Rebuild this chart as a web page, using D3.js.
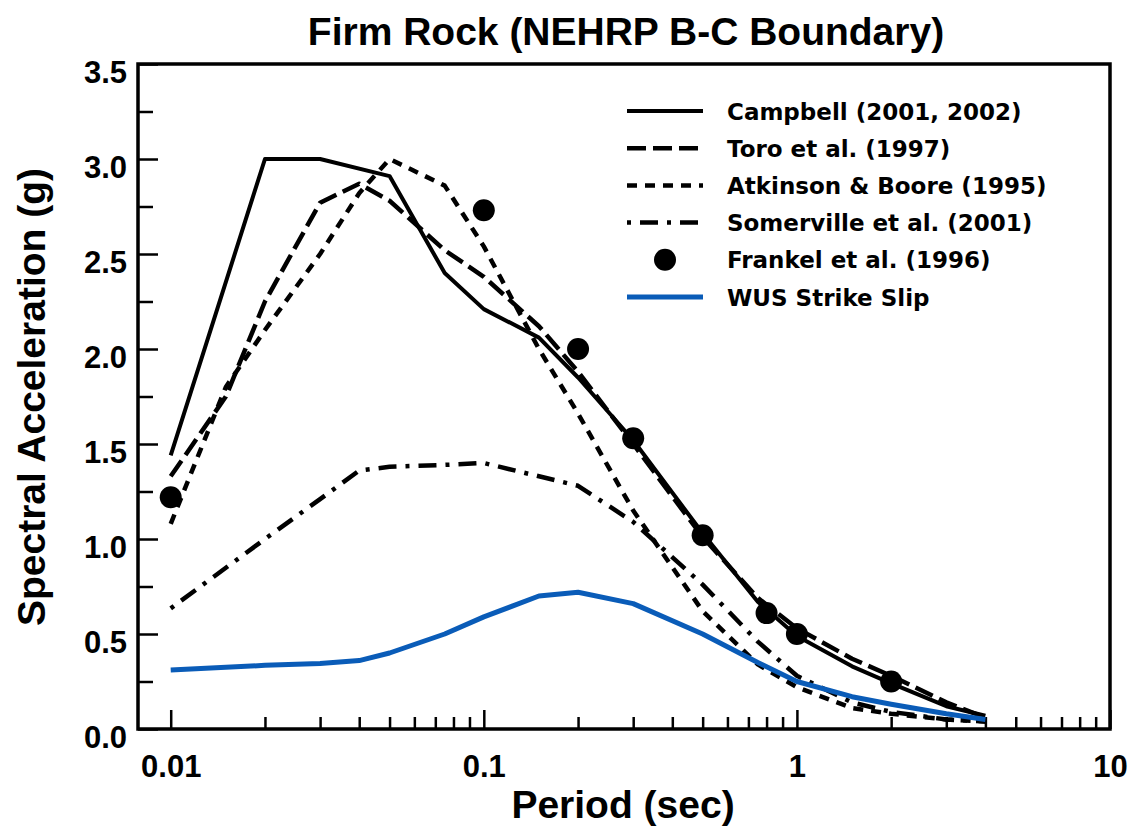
<!DOCTYPE html>
<html>
<head>
<meta charset="utf-8">
<script src="https://cdn.jsdelivr.net/npm/d3@7"></script>
<style>
  html, body { margin: 0; padding: 0; background: #fff; }
  svg { display: block; }
</style>
</head>
<body>
<script>
// Response spectra for firm rock (NEHRP B-C boundary)
const periodsCampbell = [0.01, 0.02, 0.03, 0.05, 0.075, 0.1, 0.15, 0.2, 0.3, 0.5, 0.75, 1, 1.5, 2, 3, 4];
const saCampbell      = [1.44, 3.0, 3.0, 2.91, 2.40, 2.21, 2.06, 1.85, 1.52, 1.03, 0.67, 0.49, 0.33, 0.24, 0.12, 0.07];

const periodsToro = [0.01, 0.015, 0.02, 0.03, 0.04, 0.05, 0.075, 0.1, 0.15, 0.2, 0.3, 0.5, 0.75, 1, 1.5, 2, 3, 4];
const saToro      = [1.33, 1.75, 2.25, 2.77, 2.87, 2.78, 2.52, 2.38, 2.12, 1.88, 1.50, 1.01, 0.69, 0.53, 0.37, 0.28, 0.14, 0.06];

const periodsAtkinson = [0.01, 0.015, 0.02, 0.03, 0.04, 0.05, 0.075, 0.1, 0.15, 0.2, 0.3, 0.5, 0.75, 1, 1.5, 2, 3, 4];
const saAtkinson      = [1.08, 1.80, 2.10, 2.50, 2.82, 3.0, 2.86, 2.54, 2.0, 1.66, 1.15, 0.62, 0.34, 0.22, 0.11, 0.08, 0.05, 0.04];

const periodsSomerville = [0.01, 0.02, 0.03, 0.04, 0.05, 0.075, 0.1, 0.15, 0.2, 0.3, 0.5, 0.75, 1, 1.5, 2, 3, 4];
const saSomerville      = [0.635, 1.0, 1.21, 1.36, 1.38, 1.39, 1.40, 1.33, 1.28, 1.09, 0.76, 0.46, 0.28, 0.14, 0.09, 0.05, 0.04];

const periodsFrankel = [0.01, 0.1, 0.2, 0.3, 0.5, 0.8, 1, 2];
const saFrankel      = [1.22, 2.73, 2.0, 1.53, 1.02, 0.61, 0.50, 0.25];

const periodsWUS = [0.01, 0.02, 0.03, 0.04, 0.05, 0.075, 0.1, 0.15, 0.2, 0.3, 0.5, 0.75, 1, 1.5, 2, 3, 4];
const saWUS      = [0.31, 0.335, 0.345, 0.36, 0.40, 0.50, 0.59, 0.70, 0.72, 0.66, 0.50, 0.35, 0.25, 0.17, 0.13, 0.08, 0.05];

const seriesNames = ["Campbell (2001, 2002)", "Toro et al. (1997)", "Atkinson & Boore (1995)",
                     "Somerville et al. (2001)", "Frankel et al. (1996)", "WUS Strike Slip"];

const xMajorTicks = [0.01, 0.1, 1, 10];
const xTickLabels = ["0.01", "0.1", "1", "10"];
const yMajorTicks = [0, 0.5, 1.0, 1.5, 2.0, 2.5, 3.0, 3.5];
const yTickLabels = ["0.0", "0.5", "1.0", "1.5", "2.0", "2.5", "3.0", "3.5"];

const titleText = "Firm Rock (NEHRP B-C Boundary)";
const xTitle = "Period (sec)";
const yTitle = "Spectral Acceleration (g)";

// ---- layout ----
const W = 1134, H = 835;
const plotLeft = 138, plotRight = 1110, plotTop = 64, plotBottom = 729;
const FONT = "'Liberation Sans', Arial, Helvetica, sans-serif";
const LEGEND_FONT = "'DejaVu Sans', Verdana, sans-serif";

const svg = d3.select("body").append("svg")
  .attr("width", W).attr("height", H)
  .attr("viewBox", `0 0 ${W} ${H}`);
svg.append("rect").attr("width", W).attr("height", H).attr("fill", "#fff");

// log period axis: one decade spans ~313 px, left edge sits a little below 0.01
const x = d3.scaleLog().domain([0.01, 10]).range([170.7, 1109.7]);
const xLeft = x.invert(plotLeft);
x.domain([xLeft, 10]).range([plotLeft, plotRight]);
const y = d3.scaleLinear().domain([0, 3.5]).range([plotBottom, plotTop]);

// minor ticks on the log axis
const xMinorTicks = [];
[0.01, 0.1, 1].forEach(d => { for (let k = 2; k <= 9; k++) xMinorTicks.push(d * k); });
const yMinorTicks = d3.range(0.25, 3.5, 0.5);

// x axis ticks (inward)
const gxMinor = svg.append("g").attr("transform", `translate(0,${plotBottom})`)
  .call(d3.axisBottom(x).tickValues(xMinorTicks).tickSizeInner(-12).tickSizeOuter(0).tickFormat(""));
const gxMajor = svg.append("g").attr("transform", `translate(0,${plotBottom})`)
  .call(d3.axisBottom(x).tickValues(xMajorTicks).tickSizeInner(-19).tickSizeOuter(0)
        .tickFormat((d, i) => xTickLabels[i]));
[gxMinor, gxMajor].forEach(g => {
  g.select(".domain").remove();
  g.selectAll(".tick line").attr("stroke", "#000").attr("stroke-width", 2.5);
});
gxMajor.selectAll(".tick text")
  .attr("y", 48).attr("dy", null)
  .attr("font-family", FONT).attr("font-weight", "bold").attr("font-size", 31)
  .attr("fill", "#000");

// y axis ticks (inward)
const gyMinor = svg.append("g").attr("transform", `translate(${plotLeft},0)`)
  .call(d3.axisLeft(y).tickValues(yMinorTicks).tickSizeInner(-15).tickSizeOuter(0).tickFormat(""));
const gyMajor = svg.append("g").attr("transform", `translate(${plotLeft},0)`)
  .call(d3.axisLeft(y).tickValues(yMajorTicks).tickSizeInner(-20).tickSizeOuter(0)
        .tickFormat((d, i) => yTickLabels[i]));
[gyMinor, gyMajor].forEach(g => {
  g.select(".domain").remove();
  g.selectAll(".tick line").attr("stroke", "#000").attr("stroke-width", 2.5);
});
gyMajor.selectAll(".tick text")
  .attr("x", -11).attr("dy", 18)
  .attr("font-family", FONT).attr("font-weight", "bold").attr("font-size", 31)
  .attr("fill", "#000");

// plot frame
svg.append("rect")
  .attr("x", plotLeft).attr("y", plotTop)
  .attr("width", plotRight - plotLeft).attr("height", plotBottom - plotTop)
  .attr("fill", "none").attr("stroke", "#000").attr("stroke-width", 3.5);

// curves
const line = d3.line().x(d => x(d[0])).y(d => y(d[1]));
const zip = (p, v) => p.map((d, i) => [d, v[i]]);

const styles = [
  { data: zip(periodsCampbell, saCampbell), color: "#000", width: 4, dash: null },
  { data: zip(periodsToro, saToro), color: "#000", width: 4.5, dash: "19 7" },
  { data: zip(periodsAtkinson, saAtkinson), color: "#000", width: 4.5, dash: "10 8" },
  { data: zip(periodsSomerville, saSomerville), color: "#000", width: 4.5, dash: "4 9 18 9" },
  null,
  { data: zip(periodsWUS, saWUS), color: "#0a5cb8", width: 5, dash: null }
];

const plot = svg.append("g");
styles.forEach(s => {
  if (!s) return;
  plot.append("path")
    .datum(s.data)
    .attr("d", line)
    .attr("fill", "none")
    .attr("stroke", s.color)
    .attr("stroke-width", s.width)
    .attr("stroke-dasharray", s.dash)
    .attr("stroke-linejoin", "round");
});

plot.selectAll("circle.frankel")
  .data(zip(periodsFrankel, saFrankel))
  .join("circle")
  .attr("class", "frankel")
  .attr("cx", d => x(d[0])).attr("cy", d => y(d[1]))
  .attr("r", 11).attr("fill", "#000");

// legend
const legend = svg.append("g");
const lgX0 = 627, lgX1 = 703, lgText = 727, lgY0 = 111, lgStep = 37.2;
seriesNames.forEach((name, i) => {
  const yy = lgY0 + i * lgStep;
  const s = styles[i];
  if (s) {
    legend.append("line")
      .attr("x1", lgX0).attr("x2", lgX1).attr("y1", yy).attr("y2", yy)
      .attr("stroke", s.color).attr("stroke-width", s.width)
      .attr("stroke-dasharray", s.dash);
  } else {
    legend.append("circle").attr("cx", (lgX0 + lgX1) / 2).attr("cy", yy)
      .attr("r", 11).attr("fill", "#000");
  }
  legend.append("text")
    .attr("x", lgText).attr("y", yy + 8.5)
    .attr("font-family", LEGEND_FONT).attr("font-weight", "bold").attr("font-size", 23)
    .attr("fill", "#000")
    .text(name);
});

// titles
svg.append("text")
  .attr("x", 626).attr("y", 45).attr("text-anchor", "middle")
  .attr("font-family", FONT).attr("font-weight", "bold").attr("font-size", 39)
  .text(titleText);

svg.append("text")
  .attr("x", 623).attr("y", 818).attr("text-anchor", "middle")
  .attr("font-family", FONT).attr("font-weight", "bold").attr("font-size", 39)
  .text(xTitle);

svg.append("text")
  .attr("transform", "translate(45,397) rotate(-90)")
  .attr("text-anchor", "middle")
  .attr("font-family", FONT).attr("font-weight", "bold").attr("font-size", 39)
  .text(yTitle);
</script>
</body>
</html>
